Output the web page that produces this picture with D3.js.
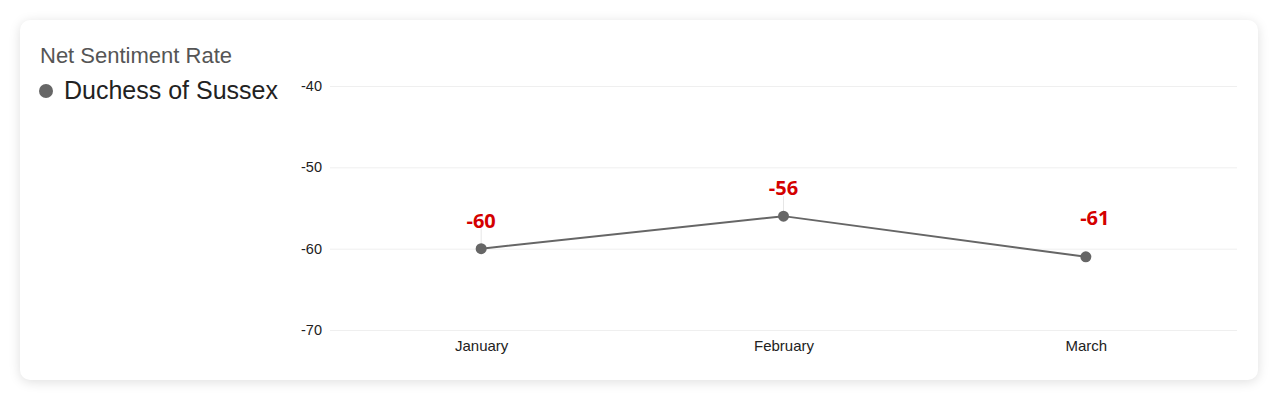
<!DOCTYPE html>
<html>
<head>
<meta charset="utf-8">
<script src="https://cdn.jsdelivr.net/npm/d3@7"></script>
<style>
  html, body { margin: 0; padding: 0; background: #fff; }
  body { width: 1280px; height: 403px; overflow: hidden; font-family: "Liberation Sans", Arial, sans-serif; }
  .card {
    position: absolute; left: 20px; top: 20px; width: 1238px; height: 360px;
    background: #fff; border-radius: 10px;
    box-shadow: 0 2px 12px rgba(0,0,0,0.13);
  }
  svg { position: absolute; left: 0; top: 0; }
</style>
</head>
<body>
<div class="card"></div>
<div id="chart"></div>
<script>
// chart data
const months = ["January", "February", "March"];
const sentiment = [-60, -56, -61];
const yTicks = [-40, -50, -60, -70];
const seriesName = "Duchess of Sussex";
const chartTitle = "Net Sentiment Rate";

const width = 1280, height = 403;
const plot = {left: 330, right: 1237, top: 86, bottom: 330};
// March label sits higher and a bit to the right in the original
const labelNudge = {March: {dx: 9, dy: -11}};

const svg = d3.select("#chart").append("svg")
  .attr("width", width)
  .attr("height", height);

// title + legend
svg.append("text")
  .attr("x", 40).attr("y", 63)
  .attr("font-size", 22)
  .attr("fill", "#555")
  .text(chartTitle);

svg.append("circle")
  .attr("cx", 46).attr("cy", 91).attr("r", 7)
  .attr("fill", "#666");

svg.append("text")
  .attr("x", 64).attr("y", 99)
  .attr("font-size", 25)
  .attr("fill", "#222")
  .text(seriesName);

// scales
const x = d3.scalePoint()
  .domain(months)
  .range([plot.left, plot.right])
  .padding(0.5);

const y = d3.scaleLinear()
  .domain([-70, -40])
  .range([plot.bottom, plot.top]);

// gridlines + y labels
const yAxis = svg.append("g")
  .attr("transform", `translate(${plot.left},0)`)
  .call(d3.axisLeft(y).tickValues(yTicks).tickFormat(d => String(d))
    .tickSize(-(plot.right - plot.left)).tickPadding(8));
yAxis.select(".domain").remove();
yAxis.selectAll(".tick line").attr("stroke", "#efefef").attr("stroke-width", 1);
yAxis.selectAll(".tick text")
  .attr("font-size", 14.5)
  .attr("font-family", "Liberation Sans, Arial, sans-serif")
  .attr("fill", "#222");

// x labels
const xAxis = svg.append("g")
  .attr("transform", `translate(0,${plot.bottom})`)
  .call(d3.axisBottom(x).tickSize(0).tickPadding(10));
xAxis.select(".domain").remove();
xAxis.selectAll(".tick text")
  .attr("font-size", 15)
  .attr("font-family", "Liberation Sans, Arial, sans-serif")
  .attr("fill", "#222");

const pts = months.map((m, i) => ({month: m, value: sentiment[i]}));
const nudge = d => labelNudge[d.month] || {dx: 0, dy: 0};

// faint connector lines from labels to points (only for labels straight above)
svg.selectAll(".conn").data(pts.filter(d => !labelNudge[d.month])).enter().append("line")
  .attr("x1", d => x(d.month)).attr("x2", d => x(d.month))
  .attr("y1", d => y(d.value) - 20).attr("y2", d => y(d.value))
  .attr("stroke", "#e6e6e6").attr("stroke-width", 1);

// line
svg.append("path")
  .datum(pts)
  .attr("fill", "none")
  .attr("stroke", "#666")
  .attr("stroke-width", 2)
  .attr("d", d3.line().x(d => x(d.month)).y(d => y(d.value)));

// points
svg.selectAll(".pt").data(pts).enter().append("circle")
  .attr("cx", d => x(d.month))
  .attr("cy", d => y(d.value))
  .attr("r", 5.5)
  .attr("fill", "#666");

// value labels
svg.selectAll(".val").data(pts).enter().append("text")
  .attr("x", d => x(d.month) + nudge(d).dx)
  .attr("y", d => y(d.value) - 21 + nudge(d).dy)
  .attr("text-anchor", "middle")
  .attr("font-family", "Open Sans, sans-serif")
  .attr("font-weight", "bold")
  .attr("font-size", 20)
  .attr("fill", "#d40000")
  .text(d => d.value);
</script>
</body>
</html>
